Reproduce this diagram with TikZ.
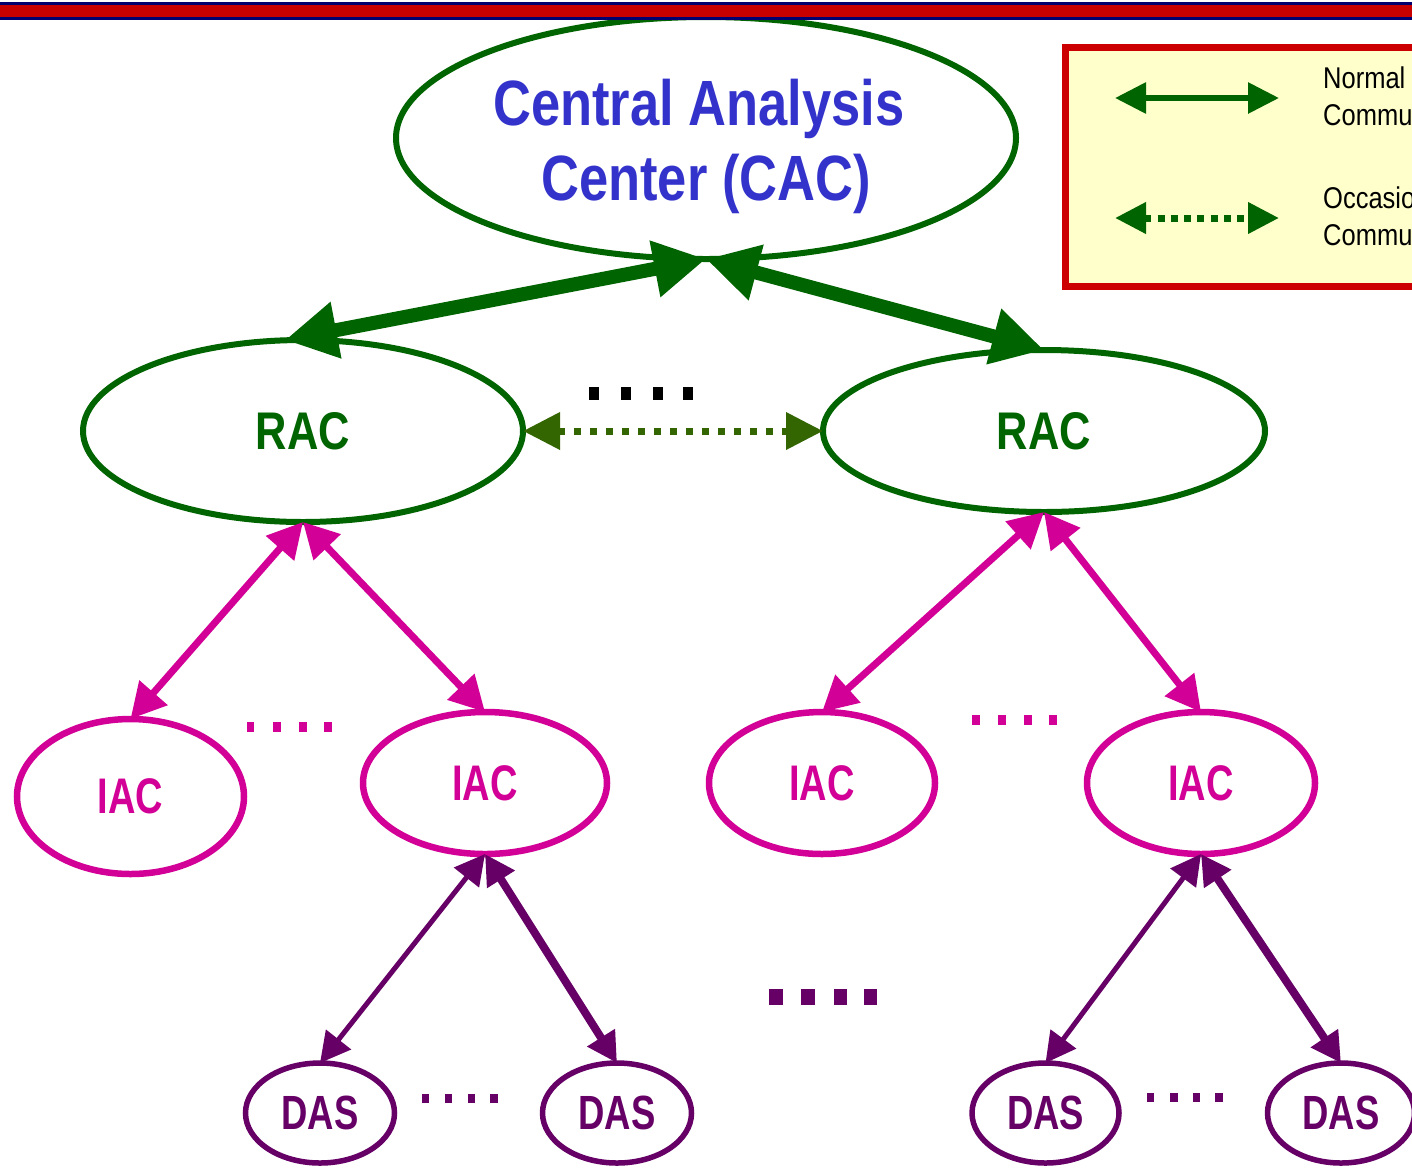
\documentclass[tikz,border=0pt]{standalone}
\usepackage{fontspec}
\setmainfont{Liberation Sans}
\newfontfamily\nbA{Liberation Sans}[FakeStretch=0.82]
\newfontfamily\nbB{Liberation Sans}[FakeStretch=0.76]
\newfontfamily\nrm{Liberation Sans}[FakeStretch=0.85]
\usetikzlibrary{shapes.geometric,arrows.meta}
\definecolor{cgreen}{RGB}{0,100,0}
\definecolor{colive}{RGB}{51,102,0}
\definecolor{cmag}{RGB}{210,0,150}
\definecolor{cpurple}{RGB}{102,0,102}
\definecolor{cblue}{RGB}{51,51,204}
\definecolor{cred}{RGB}{204,0,0}
\definecolor{cbarred}{RGB}{200,0,0}
\definecolor{cnavy}{RGB}{0,0,110}
\definecolor{cyell}{RGB}{255,255,204}
\tikzset{
  ell/.style={ellipse, draw, inner sep=0pt, outer sep=0pt},
  cacnode/.style={ell, draw=cgreen, line width=6pt, minimum width=620pt, minimum height=242pt},
  cactext/.style={anchor=base, text=cblue, inner sep=0pt, font=\nbA\bfseries\fontsize{64}{75}\selectfont},
  racnode/.style={ell, draw=cgreen, text=cgreen, line width=6pt, font=\nbA\bfseries\fontsize{53}{60}\selectfont},
  iacnode/.style={ell, draw=cmag, text=cmag, line width=6.5pt, font=\nbB\bfseries\fontsize{50}{58}\selectfont},
  dasnode/.style={ell, draw=cpurple, text=cpurple, line width=5.5pt, font=\nbB\bfseries\fontsize{48}{56}\selectfont},
  gthick/.style={draw=cgreen, line width=14pt, {Triangle[length=52pt,width=54pt]}-{Triangle[length=52pt,width=54pt]}},
  gdots/.style={draw=colive, line width=7pt, dash pattern=on 7pt off 9pt, {Triangle[length=37pt,width=36pt]}-{Triangle[length=37pt,width=36pt]}},
  marrow/.style={draw=cmag, line width=7pt, {Triangle[length=35pt,width=36pt]}-{Triangle[length=35pt,width=36pt]}},
  parrowthin/.style={draw=cpurple, line width=5pt, {Triangle[length=30pt,width=31pt]}-{Triangle[length=30pt,width=31pt]}},
  parrowthick/.style={draw=cpurple, line width=8pt, {Triangle[length=30pt,width=31pt]}-{Triangle[length=30pt,width=31pt]}},
  legbox/.style={draw=cred, fill=cyell, line width=7pt},
  legsolid/.style={draw=cgreen, line width=6pt, {Triangle[length=31pt,width=30pt]}-{Triangle[length=31pt,width=30pt]}},
  legdots/.style={draw=cgreen, line width=7pt, dash pattern=on 7pt off 6.3pt, {Triangle[length=31pt,width=30pt]}-{Triangle[length=31pt,width=30pt]}},
  legtext/.style={anchor=base west, inner sep=0pt, text=black, font=\nrm\fontsize{30}{37}\selectfont},
}
\begin{document}
\begin{tikzpicture}[x=1pt,y=-1pt]
\useasboundingbox (0,0) rectangle (1412,1168);
\clip (0,0) rectangle (1412,1168);
\fill[white] (0,0) rectangle (1412,1168);

% legend
\draw[legbox] (1065.5,47) rectangle (1440,286);
\coordinate (l1a) at (1115,98);
\coordinate (l1b) at (1279,98);
\coordinate (l2a) at (1115,218);
\coordinate (l2b) at (1279,218);
\draw[legsolid] (l1a) -- (l1b);
\draw[legdots] (l2a) -- (l2b);
\node[legtext] (lt1) at (1323,88) {Normal};
\node[legtext] (lt2) at (1323,125) {Communication};
\node[legtext] (lt3) at (1323,208) {Occasional};
\node[legtext] (lt4) at (1323,245) {Communication};

% nodes
\node[cacnode] (cac) at (706,138) {};
\node[cactext] (cac1) at (699,125) {Central Analysis};
\node[cactext] (cac2) at (706,200) {Center (CAC)};

\node[racnode, minimum width=440pt, minimum height=182pt] (rac1) at (303,431) {RAC};
\node[racnode, minimum width=442pt, minimum height=162pt] (rac2) at (1044,431) {RAC};

\node[iacnode, minimum width=227pt, minimum height=155pt] (iac1) at (130.5,796.5) {IAC};
\node[iacnode, minimum width=244pt, minimum height=142pt] (iac2) at (485,783) {IAC};
\node[iacnode, minimum width=226pt, minimum height=142pt] (iac3) at (822,783) {IAC};
\node[iacnode, minimum width=228pt, minimum height=142pt] (iac4) at (1201,783) {IAC};

\node[dasnode, minimum width=149pt, minimum height=100pt] (das1) at (320,1113) {DAS};
\node[dasnode, minimum width=149pt, minimum height=100pt] (das2) at (617,1113) {DAS};
\node[dasnode, minimum width=147pt, minimum height=100pt] (das3) at (1045.5,1113) {DAS};
\node[dasnode, minimum width=147pt, minimum height=100pt] (das4) at (1341,1113) {DAS};

% connectors
\draw[gthick] (cac.south) -- ([xshift=-18pt]rac1.north);
\draw[gthick] (cac.south) -- (rac2.north);
\draw[gdots] (rac1.east) -- (rac2.west);

\draw[marrow] (rac1.south) -- (iac1.north);
\draw[marrow] (rac1.south) -- (iac2.north);
\draw[marrow] (rac2.south) -- (iac3.north);
\draw[marrow] (rac2.south) -- (iac4.north);

\draw[parrowthin] (iac2.south) -- (das1.north);
\draw[parrowthick] (iac2.south) -- (das2.north);
\draw[parrowthin] (iac4.south) -- (das3.north);
\draw[parrowthick] (iac4.south) -- (das4.north);

% ellipsis marks
\fill[black] (589,387) rectangle (599,400);
\fill[black] (621,387) rectangle (631,400);
\fill[black] (653,387) rectangle (663,400);
\fill[black] (683,387) rectangle (693,400);

\fill[cmag] (247,722) rectangle (254,732);
\fill[cmag] (273,722) rectangle (281,732);
\fill[cmag] (299,722) rectangle (307,732);
\fill[cmag] (324,722) rectangle (332,732);

\fill[cmag] (972,715) rectangle (980,725);
\fill[cmag] (998,715) rectangle (1006,725);
\fill[cmag] (1024,715) rectangle (1032,725);
\fill[cmag] (1049,715) rectangle (1057,725);

\fill[cpurple] (769,989) rectangle (783,1005);
\fill[cpurple] (801,989) rectangle (815,1005);
\fill[cpurple] (834,989) rectangle (847,1005);
\fill[cpurple] (864,989) rectangle (877,1005);

\fill[cpurple] (422,1094) rectangle (429,1103);
\fill[cpurple] (445,1094) rectangle (452,1103);
\fill[cpurple] (468,1094) rectangle (475,1103);
\fill[cpurple] (490,1094) rectangle (498,1103);

\fill[cpurple] (1147,1093) rectangle (1154,1102);
\fill[cpurple] (1170,1093) rectangle (1178,1102);
\fill[cpurple] (1193,1093) rectangle (1200,1102);
\fill[cpurple] (1215,1093) rectangle (1223,1102);

% top bar
\fill[cnavy] (0,2) rectangle (1412,20);
\fill[cbarred] (0,5) rectangle (1412,17);
\end{tikzpicture}
\end{document}
